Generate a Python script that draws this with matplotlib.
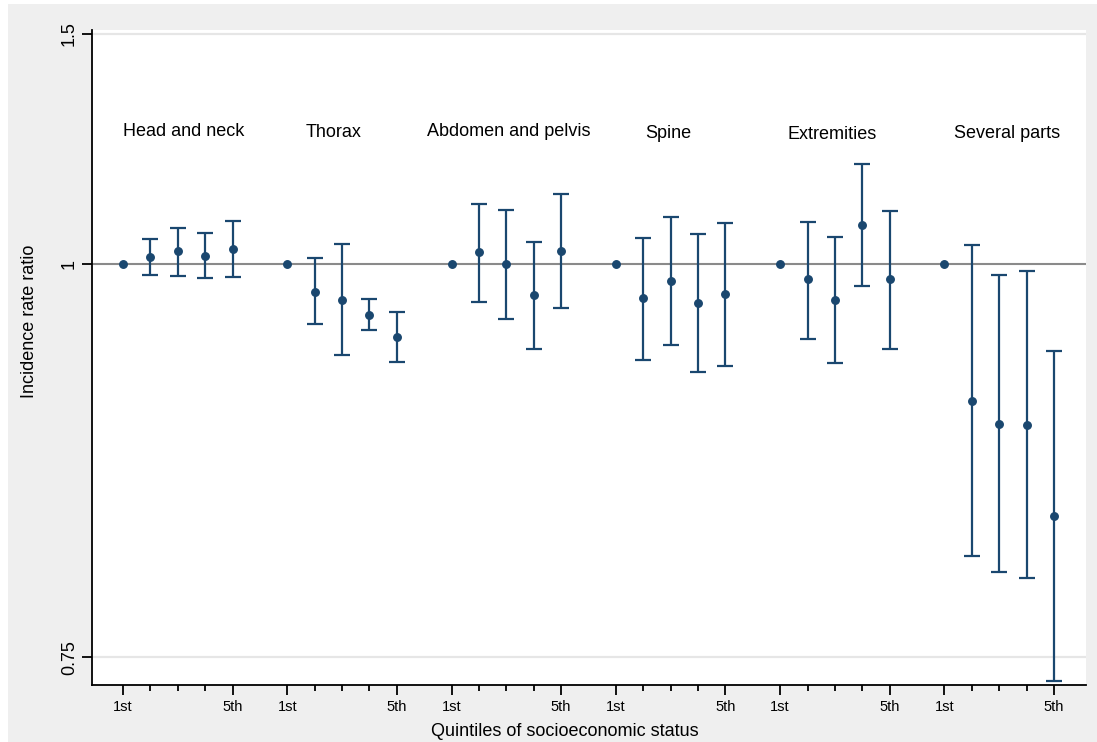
import matplotlib
matplotlib.use("Agg")
import matplotlib.pyplot as plt
from matplotlib.patches import Rectangle

# ---- data ----
groups = ["Head and neck", "Thorax", "Abdomen and pelvis", "Spine", "Extremities", "Several parts"]
quintile_labels = ["1st", "5th"]

irr = [
    [1.0, 1.0119, 1.0226, 1.0147, 1.0273],
    [1.0, 0.9523, 0.9385, 0.9145, 0.8797],
    [1.0, 1.0208, 1.0000, 0.9468, 1.0226],
    [1.0, 0.9413, 0.9700, 0.9340, 0.9485],
    [1.0, 0.9734, 0.9385, 1.0718, 0.9734],
    [1.0, 0.7859, 0.7542, 0.7533, 0.6413],
]
ci_low = [
    [None, 0.9813, 0.9796, 0.9756, 0.9768],
    [None, 0.8996, 0.8518, 0.8902, 0.8409],
    [None, 0.9352, 0.9081, 0.8608, 0.9258],
    [None, 0.8443, 0.8665, 0.8266, 0.8359],
    [None, 0.8766, 0.8398, 0.9625, 0.8613],
    [None, 0.5976, 0.5807, 0.5752, 0.4794],
]
ci_high = [
    [None, 1.0445, 1.0661, 1.0567, 1.0793],
    [None, 1.0101, 1.0353, 0.9402, 0.9189],
    [None, 1.1122, 1.0993, 1.0396, 1.1307],
    [None, 1.0475, 1.0864, 1.0543, 1.0750],
    [None, 1.0774, 1.0488, 1.1922, 1.0985],
    [None, 1.0335, 0.9803, 0.9877, 0.8573],
]
ytick_values = [0.5, 1.0, 1.5]
ytick_labels = ["0.75", "1", "1.5"]
ylabel = "Incidence rate ratio"
xlabel = "Quintiles of socioeconomic status"

# label placement (x in axis units, y baseline in data units)
label_x = [3.23, 8.7, 15.1, 20.9, 26.9, 33.3]
label_y = [1.2532, 1.2516, 1.2538, 1.2494, 1.2466, 1.2481]

navy = "#1a476f"
W, H = 1097, 742
fig = plt.figure(figsize=(W / 100, H / 100), dpi=100, facecolor="white")
fig.patches.append(Rectangle((8 / W, 0), 1 - 8 / W, 1 - 4 / H, transform=fig.transFigure,
                             facecolor="#efefef", edgecolor="none", zorder=-10))
ax = fig.add_axes([92 / W, 57 / H, (1086 - 92) / W, (685 - 30) / H])
ax.set_facecolor("white")
ax.set_yscale("log")
ax.set_xlim(-0.132, 36.17)
ax.set_ylim(0.4761, 1.5107)

font = "Liberation Sans"
narrow = ["Liberation Sans Narrow", "Liberation Sans"]

for yv in (ytick_values[0], ytick_values[2]):
    ax.axhline(yv, color="#e6e6e6", lw=1.6, zorder=0)
ax.axhline(1.0, color="#8a8a8a", lw=1.5, zorder=1)

major_ticks, minor_ticks, major_labels = [], [], []
for g in range(len(groups)):
    xs = [g * 6 + q + 1 for q in range(5)]
    major_ticks += [xs[0], xs[4]]
    major_labels += quintile_labels
    minor_ticks += xs[1:4]
    ax.plot(xs, irr[g], "o", color=navy, ms=5.4, zorder=4, mec=navy)
    ex = [x for x, lo in zip(xs, ci_low[g]) if lo is not None]
    ey = [v for v, lo in zip(irr[g], ci_low[g]) if lo is not None]
    lo = [v - l for v, l in zip(ey, [c for c in ci_low[g] if c is not None])]
    hi = [h - v for v, h in zip(ey, [c for c in ci_high[g] if c is not None])]
    ax.errorbar(ex, ey, yerr=[lo, hi], fmt="none", ecolor=navy, elinewidth=1.6,
                capsize=5.5, capthick=1.6, zorder=3)
    ax.text(label_x[g], label_y[g], groups[g], ha="center", va="baseline",
            fontsize=13, family=font, color="black")

ax.set_xticks(major_ticks)
ax.set_xticklabels(major_labels, family=narrow, fontsize=10.5)
ax.set_xticks(minor_ticks, minor=True)
ax.set_yticks(ytick_values)
ax.set_yticklabels(ytick_labels, rotation=90, va="center", family=font, fontsize=13)
ax.yaxis.set_minor_locator(matplotlib.ticker.NullLocator())
ax.tick_params(axis="x", which="major", length=7, width=1.3, pad=4)
ax.tick_params(axis="x", which="minor", length=4, width=1.3)
ax.tick_params(axis="y", which="major", length=7, width=1.3, pad=3)

for s in ("top", "right"):
    ax.spines[s].set_visible(False)
for s in ("left", "bottom"):
    ax.spines[s].set_linewidth(1.3)

fig.text(30 / W, 1 - 321 / H, ylabel, rotation=90, ha="center", va="center",
         fontsize=13, family=font)
fig.text(565 / W, 1 - 731 / H, xlabel, ha="center", va="center", fontsize=13, family=font)

fig.savefig("out.png", dpi=100, facecolor=fig.get_facecolor())
